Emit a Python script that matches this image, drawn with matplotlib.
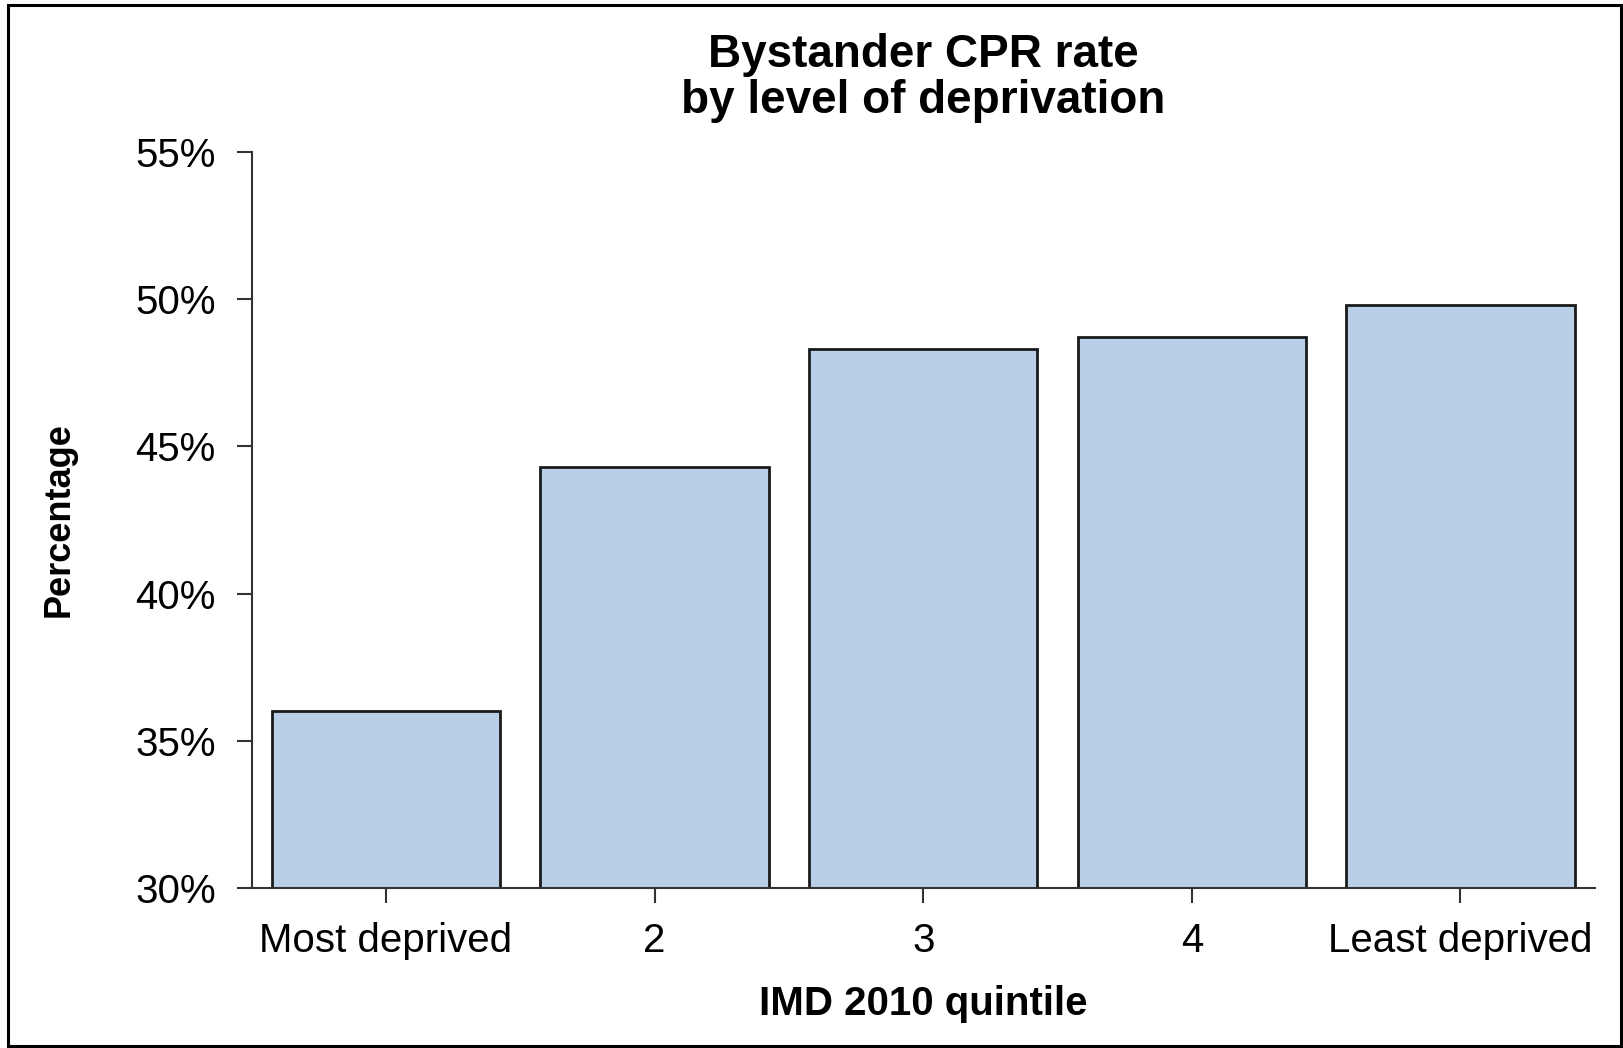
import matplotlib
matplotlib.use("Agg")
import matplotlib.pyplot as plt
from matplotlib.patches import Rectangle
from matplotlib.ticker import FuncFormatter

# bystander CPR rate per IMD quintile (percent)
quintiles = ["Most deprived", "2", "3", "4", "Least deprived"]
cpr_rate = [36.0, 44.3, 48.3, 48.7, 49.8]
y_ticks = [30, 35, 40, 45, 50, 55]

plt.rcParams["font.family"] = ["Liberation Sans", "DejaVu Sans"]

fig = plt.figure(figsize=(16.24, 10.48), dpi=100)
ax = fig.add_axes([0.155, 0.1527, 0.827, 0.7023])

xs = range(len(quintiles))
ax.bar(xs, cpr_rate, width=0.85, color="#b9cfe7", edgecolor="#1a1a1a", linewidth=2.0)

ax.set_xlim(-0.5, 4.5)
ax.set_ylim(30, 55)
ax.set_yticks(y_ticks)
ax.yaxis.set_major_formatter(FuncFormatter(lambda v, p: f"{v:.0f}%"))
ax.set_xticks(list(xs))
ax.set_xticklabels(quintiles)

for side in ["top", "right"]:
    ax.spines[side].set_visible(False)
for side in ["left", "bottom"]:
    ax.spines[side].set_linewidth(1.5)
    ax.spines[side].set_color("#333333")
ax.tick_params(axis="both", length=11, width=1.5, color="#333333", labelsize=29)
ax.tick_params(axis="x", pad=13.5)
ax.tick_params(axis="y", pad=15)

ax.set_xlabel("IMD 2010 quintile", fontsize=29, fontweight="bold", labelpad=18)
ax.set_ylabel("Percentage", fontsize=26, fontweight="bold", labelpad=42)
ax.set_title("Bystander CPR rate\nby level of deprivation", fontsize=33,
             fontweight="bold", linespacing=1.05, pad=28)

# frame around the whole picture
fig.patches.append(Rectangle((0.005, 0.002), 0.993, 0.993, transform=fig.transFigure,
                             fill=False, edgecolor="black", linewidth=2.2))

fig.savefig("out.png", dpi=100)
